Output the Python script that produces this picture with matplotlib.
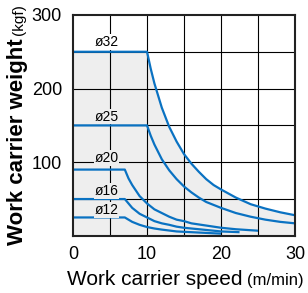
import matplotlib.pyplot as plt

plt.rcParams['font.family'] = ['Liberation Sans', 'DejaVu Sans']

# values
speed_32 = [0, 10, 10.5, 11, 12, 13, 14, 15, 16, 17, 18, 19, 20, 22, 24, 26, 28, 30]
weight_32 = [250, 250, 227, 207, 174, 148, 128, 111, 98, 87, 77, 69, 63, 52, 43, 37, 32, 28]

speed_25 = [0, 10, 10.5, 11, 12, 13, 14, 15, 16, 17, 18, 19, 20, 22, 24, 26, 28, 30]
weight_25 = [150, 150, 136, 124, 104, 89, 77, 67, 59, 52, 46, 42, 38, 31, 26, 22, 19, 17]

speed_20 = [0, 7, 7.5, 8, 9, 10, 11, 12, 13, 14, 15, 16, 18, 20, 22, 25]
weight_20 = [90, 90, 78, 69, 54, 44, 36, 31, 26, 22, 20, 17, 14, 11, 9, 7]

speed_16 = [0, 7, 7.5, 8, 9, 10, 11, 12, 13, 14, 15, 16, 18, 20, 22.5]
weight_16 = [50, 50, 44, 38, 30, 25, 20, 17, 15, 12.5, 11, 10, 8, 6, 5]

speed_12 = [0, 7, 7.5, 8, 9, 10, 11, 12, 14, 16, 18, 20]
weight_12 = [25, 25, 22, 19, 15, 12, 10, 8.5, 6, 5, 4, 3]

bore_labels = ['ø32', 'ø25', 'ø20', 'ø16', 'ø12']
label_y = [263, 162, 106, 61, 35]

fig = plt.figure(figsize=(3.08, 2.93), dpi=100)
ax = fig.add_axes([0.237, 0.195, 0.721, 0.754])

ax.fill_between(speed_32, weight_32, 0, color='#eeeeee', lw=0, zorder=0)

for v in range(5, 30, 5):
    ax.axvline(v, color='black', lw=0.8, zorder=1)
for w in range(50, 300, 50):
    ax.axhline(w, color='black', lw=0.8, zorder=1)

blue = '#0a72c2'
for xs, ys in [(speed_32, weight_32), (speed_25, weight_25), (speed_20, weight_20),
               (speed_16, weight_16), (speed_12, weight_12)]:
    ax.plot(xs, ys, color=blue, lw=1.6, zorder=3, solid_capstyle='butt')

for lab, y in zip(bore_labels, label_y):
    bg = 'white' if y > 255 else '#eeeeee'
    ax.text(2.9, y, lab, fontsize=10, ha='left', va='center', zorder=4,
            bbox=dict(facecolor=bg, edgecolor='none', pad=0.5))

ax.set_xlim(0, 30)
ax.set_ylim(0, 300)
ax.set_xticks([0, 10, 20, 30])
ax.set_yticks([100, 200, 300])
ax.tick_params(length=0, labelsize=13, pad=7)
ax.tick_params(axis='y', pad=8)
for s in ax.spines.values():
    s.set_color('#222222')
    s.set_linewidth(1.5)
    s.set_zorder(5)

# axis labels with smaller unit text
xl = fig.text(67 / 308, 1 - 285 / 293, 'Work carrier speed', fontsize=15,
              ha='left', va='baseline')
yl = fig.text(23 / 308, 1 - 245 / 293, 'Work carrier weight', fontsize=16,
              fontweight='bold', rotation=90, rotation_mode='anchor',
              ha='left', va='baseline')
fig.canvas.draw()
r = fig.canvas.get_renderer()
bx = xl.get_window_extent(r)
by = yl.get_window_extent(r)
fig.text((bx.x1 + 4) / fig.bbox.width, 1 - 285 / 293, '(m/min)', fontsize=12,
         ha='left', va='baseline')
fig.text(23 / 308, (by.y1 + 3) / fig.bbox.height, '(kgf)', fontsize=11,
         rotation=90, rotation_mode='anchor', ha='left', va='baseline')

fig.savefig('out.png', dpi=100)
